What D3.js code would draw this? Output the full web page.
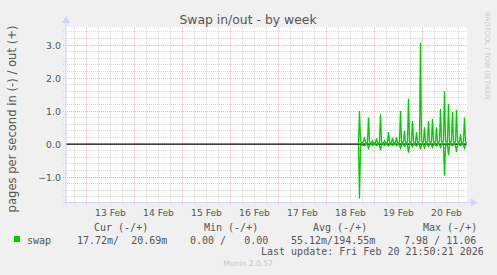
<!DOCTYPE html>
<html>
<head>
<meta charset="utf-8">
<script src="https://cdn.jsdelivr.net/npm/d3@7"></script>
<style>
  body { margin: 0; background: #f0f0f0; }
  svg { display: block; }
  text { font-family: "DejaVu Sans", sans-serif; fill: #555; }
  .mono { font-family: "DejaVu Sans Mono", monospace; font-size: 10px; white-space: pre; }
</style>
</head>
<body>
<div id="chart"></div>
<script>
// swap pages/s, one value every 30 minutes from 18 Feb 16:00
var seriesStart = new Date(2026, 1, 18, 16, 0);
var stepMinutes = 30;
var swapOut = [
  0.02, 1.00, 0.10, 0.03, 0.05, 0.08,
  0.20, 0.06, 0.02, 0.04,
  0.80, 0.08, 0.02, 0.03,
  0.10, 0.04, 0.02, 0.05,
  0.17, 0.05, 0.02, 0.04,
  0.90, 0.07, 0.02, 0.04,
  0.10, 0.04, 0.02, 0.06,
  0.36, 0.06, 0.02, 0.05,
  0.19, 0.05, 0.02, 0.04,
  0.20, 0.05, 0.02, 0.06,
  1.00, 0.08, 0.03, 0.07,
  0.40, 0.06, 0.02, 0.08,
  1.37, 0.10, 0.03, 0.07,
  0.70, 0.08, 0.02, 0.06,
  0.36, 0.06, 0.03, 0.09,
  3.07, 0.12, 0.03, 0.08,
  0.51, 0.07, 0.02, 0.08,
  0.70, 0.08, 0.03, 0.09,
  0.76, 0.07, 0.02, 0.08,
  0.51, 0.06, 0.03, 0.10,
  1.06, 0.09, 0.03, 0.11,
  1.60, 0.12, 0.02, 0.09,
  1.21, 0.10, 0.03, 0.10,
  0.97, 0.08, 0.02, 0.09,
  1.03, 0.09, 0.03, 0.06,
  0.30, 0.05, 0.02, 0.08,
  0.80, 0.07, 0.03
];
var swapIn = [
  0.02, 1.65, 0.05, 0.02, 0.03, 0.04,
  0.05, 0.02, 0.01, 0.03,
  0.13, 0.03, 0.01, 0.02,
  0.04, 0.02, 0.01, 0.02,
  0.05, 0.02, 0.01, 0.03,
  0.18, 0.03, 0.01, 0.02,
  0.04, 0.02, 0.01, 0.02,
  0.06, 0.02, 0.01, 0.02,
  0.04, 0.02, 0.01, 0.02,
  0.05, 0.02, 0.01, 0.03,
  0.13, 0.03, 0.01, 0.03,
  0.07, 0.02, 0.01, 0.03,
  0.26, 0.04, 0.01, 0.03,
  0.08, 0.02, 0.01, 0.03,
  0.06, 0.02, 0.01, 0.03,
  0.16, 0.03, 0.01, 0.03,
  0.12, 0.03, 0.01, 0.03,
  0.07, 0.02, 0.01, 0.03,
  0.10, 0.03, 0.01, 0.03,
  0.06, 0.02, 0.01, 0.03,
  0.10, 0.03, 0.01, 0.04,
  0.96, 0.06, 0.02, 0.04,
  0.33, 0.04, 0.01, 0.03,
  0.05, 0.02, 0.01, 0.03,
  0.24, 0.03, 0.01, 0.02,
  0.05, 0.02, 0.01, 0.03,
  0.13, 0.03, 0.02
];
var yTicks = [-1, 0, 1, 2, 3];
var legendHeader = ["Cur (-/+)", "Min (-/+)", "Avg (-/+)", "Max (-/+)"];
var legendValues = ["17.72m/  20.69m", "0.00 /   0.00", "55.12m/194.55m", "7.98 / 11.06"];
var lastUpdate = "Last update: Fri Feb 20 21:50:21 2026";

var W = 497, H = 275;
var plot = { left: 66.5, right: 466.5, top: 27.5, bottom: 202.5 };
var tStart = new Date(2026, 1, 12, 14, 0), tEnd = new Date(2026, 1, 20, 22, 0);

var x = d3.scaleTime().domain([tStart, tEnd]).range([plot.left, plot.right]);
var y = d3.scaleLinear().domain([-1.77, 3.53]).range([plot.bottom, plot.top]);
function py(v) { return Math.floor(y(v)) + 0.5; }

var svg = d3.select("#chart").append("svg")
    .attr("width", W).attr("height", H);

svg.append("rect").attr("width", W).attr("height", H).attr("fill", "#f0f0f0");
svg.append("rect")
    .attr("x", 66).attr("y", 27).attr("width", 401).attr("height", 176)
    .attr("fill", "#fff");

// grid
var minorY = d3.range(-16, 36, 2).map(function(d) { return d / 10; })
    .filter(function(v) { return Math.abs(v - Math.round(v)) > 1e-6; });
svg.selectAll(".gy").data(minorY).enter().append("line")
    .attr("x1", 63).attr("x2", plot.right)
    .attr("y1", py).attr("y2", py)
    .attr("stroke", "#d8d8d8").attr("stroke-dasharray", "1,1");

var minorX = d3.timeHour.every(6).range(tStart, tEnd)
    .filter(function(d) { return d.getHours() !== 0; });
svg.selectAll(".gx").data(minorX).enter().append("line")
    .attr("x1", function(d) { return Math.floor(x(d)) + 0.5; })
    .attr("x2", function(d) { return Math.floor(x(d)) + 0.5; })
    .attr("y1", plot.top).attr("y2", plot.bottom + 2)
    .attr("stroke", "#d8d8d8").attr("stroke-dasharray", "1,1");

svg.selectAll(".my").data(yTicks.filter(function(v) { return v !== 0; })).enter().append("line")
    .attr("x1", 63).attr("x2", plot.right)
    .attr("y1", py).attr("y2", py)
    .attr("stroke", "#eeb0b0").attr("stroke-dasharray", "1,1");

var days = d3.timeDay.range(tStart, tEnd);
svg.selectAll(".mx").data(days).enter().append("line")
    .attr("x1", function(d) { return Math.floor(x(d)) + 0.5; })
    .attr("x2", function(d) { return Math.floor(x(d)) + 0.5; })
    .attr("y1", plot.top).attr("y2", plot.bottom + 3)
    .attr("stroke", "#eeb0b0").attr("stroke-dasharray", "1,1");

// axes
svg.append("line").attr("x1", plot.left - 0.5).attr("x2", plot.left - 0.5)
    .attr("y1", plot.bottom + 2).attr("y2", 22).attr("stroke", "#cfd6f8");
svg.append("path").attr("d", "M62,23 L66,16 L70,23 Z").attr("fill", "#cfd6f8");
svg.append("line").attr("x1", 63).attr("x2", 472)
    .attr("y1", plot.bottom).attr("y2", plot.bottom).attr("stroke", "#cfd6f8");
svg.append("path").attr("d", "M471,198.5 L478,202.5 L471,206.5 Z").attr("fill", "#cfd6f8");

// data lines
function toPoints(arr, sign) {
  return arr.map(function(v, i) {
    return { t: d3.timeMinute.offset(seriesStart, i * stepMinutes), v: sign * v };
  });
}
var line = d3.line()
    .x(function(d) { return x(d.t); })
    .y(function(d) { return y(d.v); });

svg.append("line").attr("x1", plot.left).attr("x2", plot.right)
    .attr("y1", y(0)).attr("y2", y(0))
    .attr("stroke", "#000").attr("stroke-width", 1.3);

svg.append("path").datum(toPoints(swapIn, -1))
    .attr("fill", "none").attr("stroke", "#00cc00").attr("stroke-width", 1.3)
    .attr("d", line);
svg.append("path").datum(toPoints(swapOut, 1))
    .attr("fill", "none").attr("stroke", "#00cc00").attr("stroke-width", 1.3)
    .attr("d", line);

// tick labels
svg.selectAll(".yl").data(yTicks).enter().append("text")
    .attr("x", 61).attr("y", function(d) { return y(d) + 3.5; })
    .attr("text-anchor", "end").style("font-size", "9.4px")
    .text(function(d) { return d3.format(".1f")(d); });

svg.selectAll(".xl").data(days).enter().append("text")
    .attr("x", function(d) { return x(d3.timeHour.offset(d, 12)); })
    .attr("y", 216).attr("text-anchor", "middle").style("font-size", "9.2px")
    .text(d3.timeFormat("%d %b"));

// titles
svg.append("text").attr("x", 248).attr("y", 23.5).attr("text-anchor", "middle")
    .style("font-size", "12.4px").text("Swap in/out - by week");
svg.append("text").attr("transform", "translate(16,119) rotate(-90)")
    .attr("text-anchor", "middle").style("font-size", "11.6px")
    .text("pages per second in (-) / out (+)");
svg.append("text").attr("transform", "translate(485,12) rotate(90)")
    .attr("text-anchor", "start").style("font-size", "6.8px").style("fill", "#c8c8c8")
    .text("RRDTOOL / TOBI OETIKER");

// legend
var headerX = [94, 204, 313, 423];
var valueX = [77, 190, 291, 404];
svg.selectAll(".lh").data(legendHeader).enter().append("text")
    .attr("class", "mono").attr("x", function(d, i) { return headerX[i]; })
    .attr("y", 231).text(function(d) { return d; });
svg.append("rect").attr("x", 14).attr("y", 236).attr("width", 6).attr("height", 6)
    .attr("fill", "#00cc00");
svg.append("text").attr("class", "mono").attr("x", 27).attr("y", 243.5).text("swap");
svg.selectAll(".lv").data(legendValues).enter().append("text")
    .attr("class", "mono").attr("x", function(d, i) { return valueX[i]; })
    .attr("y", 243.5).text(function(d) { return d; });
svg.append("text").attr("class", "mono").attr("x", 261).attr("y", 255).text(lastUpdate);
svg.append("text").attr("x", 248).attr("y", 266).attr("text-anchor", "middle")
    .style("font-size", "7.6px").style("fill", "#c8c8c8").text("Munin 2.0.57");
</script>
</body>
</html>
